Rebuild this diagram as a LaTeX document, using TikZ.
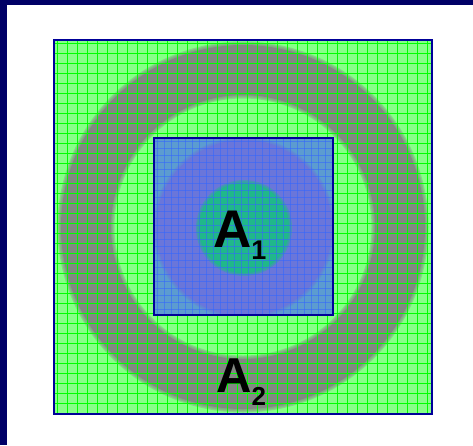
\documentclass[tikz,border=0pt]{standalone}
\usepackage{fontspec}
\setmainfont{Liberation Sans}
\definecolor{navy}{HTML}{000066}
\definecolor{bordblue}{HTML}{000099}
\definecolor{lightgreen}{HTML}{88FF88}
\definecolor{gridgreen}{HTML}{00FF00}
\definecolor{ringgray}{HTML}{828882}
\definecolor{sqblue}{HTML}{5C9CD0}
\definecolor{diskblue}{HTML}{6A76DA}
\definecolor{diskgreen}{HTML}{20B88A}
\definecolor{gridblue}{HTML}{3366FF}
\tikzset{
  lbl/.style={anchor=base west, inner sep=0pt, font=\bfseries},
  frame/.style={draw=bordblue, line width=2.4pt},
}
\begin{document}
\begin{tikzpicture}[x=1pt,y=-1pt]
\useasboundingbox (0,0) rectangle (473,445);
\fill[white] (0,0) rectangle (473,445);
\fill[navy] (0,0) rectangle (473,5);
\fill[navy] (0,0) rectangle (7,445);
% outer square
\coordinate (OC) at (243,227);
\fill[lightgreen] (54,40) rectangle (432,414);
\begin{scope}
\clip (54,40) rectangle (432,414);
\fill[ringgray, even odd rule] (OC) circle[radius=182] (OC) circle[radius=132];
\foreach \k in {0,1,2} {
  \fill[ringgray, opacity=0.35, even odd rule]
    (OC) circle[radius={185.5-\k*1.2}] (OC) circle[radius={128.5+\k*1.2}];
}
\foreach \x in {57.5,67.5,...,431} \draw[gridgreen, line width=1pt] (\x,40) -- (\x,414);
\foreach \y in {43.5,53.5,...,413} \draw[gridgreen, line width=1pt] (54,\y) -- (432,\y);
\end{scope}
% inner square
\fill[sqblue] (154,138) rectangle (333,315);
\begin{scope}
\clip (154,138) rectangle (333,315);
\coordinate (IC) at (244,228);
\fill[diskblue] (IC) circle[radius=88];
\foreach \k in {0,1,2} {
  \fill[diskblue, opacity=0.35] (IC) circle[radius={91-\k*1.2}];
}
\fill[diskgreen] (IC) circle[radius=45];
\foreach \k in {0,1,2} {
  \fill[diskgreen, opacity=0.4] (IC) circle[radius={48-\k*1.2}];
}
\foreach \x in {157.5,164.5,...,333} \draw[gridblue, opacity=0.55, line width=1pt] (\x,138) -- (\x,315);
\foreach \y in {141.5,148.5,...,315} \draw[gridblue, opacity=0.55, line width=1pt] (154,\y) -- (333,\y);
\end{scope}
\draw[frame] (54,40) rectangle (432,414);
\draw[frame] (154,138) rectangle (333,315);
% labels
\node[lbl] (a1) at (213,247) {\fontsize{53}{60}\selectfont A\raisebox{-12pt}{\fontsize{27}{27}\selectfont 1}};
\node[lbl] (a2) at (216,392) {\fontsize{49}{56}\selectfont A\raisebox{-13pt}{\fontsize{26}{26}\selectfont 2}};
\end{tikzpicture}
\end{document}
